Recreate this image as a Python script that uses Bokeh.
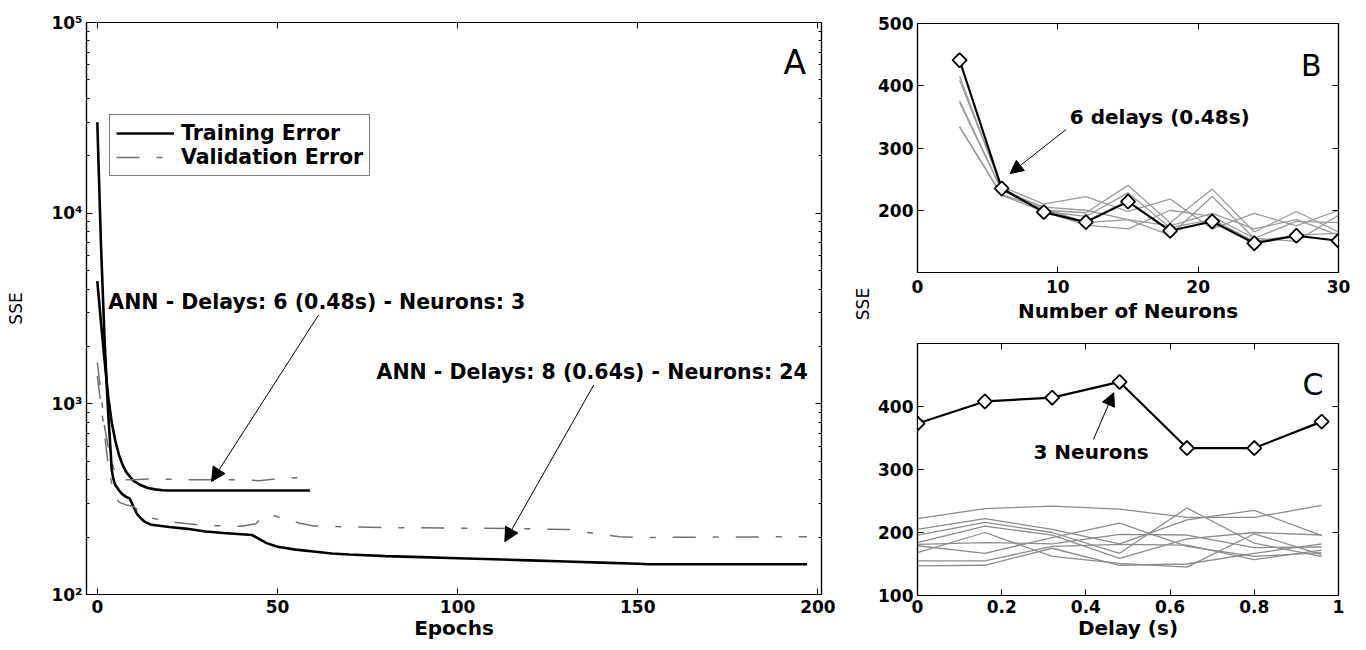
import math
from bokeh.plotting import figure
from bokeh.models import (LogAxis, LinearAxis, FixedTicker, Range1d, Label, Arrow,
                          NormalHead, Legend, LegendItem, CustomJSTickFormatter)
from bokeh.layouts import row, column
from bokeh.embed import file_html
from bokeh.resources import INLINE

# ---------------- Panel A data ----------------
net1_train_epochs = [0, 1, 2, 3, 4, 5, 6, 7, 8, 10, 12, 14, 16, 18, 20, 30, 40, 50, 59]
net1_train_sse = [4400, 2700, 1700, 1100, 800, 640, 540, 480, 440, 395, 375, 362, 356, 352, 351, 351, 351, 351, 351]
net1_val_epochs = [0, 1, 2, 3, 4, 5, 6, 8, 10, 15, 20, 25, 30, 35, 40, 45, 50, 55, 59]
net1_val_sse = [1650, 1150, 760, 600, 500, 430, 405, 400, 400, 404, 402, 400, 400, 400, 400, 395, 405, 410, 410]

net2_train_epochs = [0, 1, 2, 3, 3.5, 4, 4.5, 5, 6, 7, 8, 9, 10, 11, 12, 13, 15, 20, 25, 30, 35, 40, 43,
                     45, 47, 50, 55, 60, 65, 70, 80, 90, 100, 110, 120, 130, 140, 150, 153, 197]
net2_train_sse = [30000, 7000, 2200, 900, 650, 450, 400, 375, 352, 335, 325, 319, 290, 265, 252, 242, 232,
                  226, 221, 214, 210, 207, 205, 195, 186, 178, 172, 168, 164, 162, 159, 157, 155, 153,
                  151, 149, 147, 145, 144, 144]
net2_val_epochs = [0, 1, 2, 3, 4, 5, 6, 8, 10, 12, 15, 18, 25, 30, 40, 44, 46, 48, 52, 56, 60, 70, 85,
                   100, 120, 131, 135, 140, 145, 150, 170, 197]
net2_val_sse = [1400, 1000, 700, 480, 380, 330, 305, 295, 290, 270, 252, 244, 235, 230, 228, 235, 258,
                262, 250, 237, 229, 226, 224, 223, 221, 219, 213, 206, 201, 199, 200, 201]

a_xticks = [0, 50, 100, 150, 200]
a_yticks = [100, 1000, 10000, 100000]
a_ylabels = {100: "10\u00b2", 1000: "10\u00b3", 10000: "10\u2074", 100000: "10\u2075"}

# ---------------- Panel B data ----------------
neurons = [3, 6, 9, 12, 15, 18, 21, 24, 27, 30]
b_best = [441, 235, 197, 181, 214, 167, 182, 147, 159, 151]           # 6 delays (0.48 s)
b_gray = [
    [373, 232, 205, 200, 185, 175, 195, 170, 185, 160],
    [409, 238, 210, 222, 198, 218, 170, 195, 175, 200],
    [415, 236, 200, 196, 240, 180, 234, 165, 198, 165],
    [334, 224, 198, 176, 170, 200, 190, 155, 150, 192],
    [334, 225, 203, 180, 185, 160, 222, 155, 182, 180],
    [376, 233, 198, 190, 228, 172, 185, 150, 160, 163],
]
b_xticks = [0, 10, 20, 30]
b_yticks = [200, 300, 400, 500]

# ---------------- Panel C data ----------------
delays = [0, 0.16, 0.32, 0.48, 0.64, 0.8, 0.96]
c_best = [373, 408, 414, 439, 334, 334, 376]                         # 3 neurons
c_gray = [
    [222, 238, 242, 237, 224, 224, 243],
    [205, 222, 205, 182, 220, 235, 195],
    [196, 216, 200, 167, 239, 183, 162],
    [184, 210, 196, 159, 190, 200, 196],
    [181, 184, 182, 197, 196, 176, 177],
    [179, 167, 192, 215, 178, 162, 168],
    [168, 200, 162, 151, 145, 198, 165],
    [155, 155, 178, 181, 180, 157, 172],
    [147, 148, 175, 148, 150, 167, 182],
]
c_xticks = [0, 0.2, 0.4, 0.6, 0.8, 1]
c_yticks = [100, 200, 300, 400]

FONT = "DejaVu Sans"
EMPTY = "return ''"
H = 642          # total height of the layout
WA = 845         # width of panel A
WS = 28          # width of the strip holding the shared SSE label
WR = 1350 - WA - WS   # width of panels B and C


def style_axis(ax, size="17px"):
    ax.axis_line_color = "black"
    ax.axis_line_width = 1.2
    ax.major_tick_in = 6
    ax.major_tick_out = 0
    ax.minor_tick_in = 3
    ax.minor_tick_out = 0
    ax.major_tick_line_color = "black"
    ax.minor_tick_line_color = "black"
    ax.major_label_text_font = FONT
    ax.major_label_text_font_style = "bold"
    ax.major_label_text_font_size = size
    ax.major_label_text_color = "black"
    ax.major_label_standoff = 4
    ax.axis_label_text_font = FONT
    ax.axis_label_text_font_style = "bold"
    ax.axis_label_text_font_size = "20px"
    ax.axis_label_text_color = "black"
    ax.axis_label_standoff = 0


def mirror(ax):
    style_axis(ax, size="1px")
    ax.major_label_standoff = 0
    ax.formatter = CustomJSTickFormatter(code=EMPTY)
    return ax


def base_fig(**kw):
    p = figure(output_backend="svg", toolbar_location=None, **kw)
    p.xgrid.visible = False
    p.ygrid.visible = False
    p.outline_line_color = "black"
    p.outline_line_width = 1.2
    p.background_fill_color = "white"
    p.border_fill_color = "white"
    return p


# ================= Panel A =================
pA = base_fig(width=WA, height=H, y_axis_type="log",
              x_range=Range1d(-3, 201), y_range=Range1d(100, 100000),
              min_border_left=86, min_border_right=24, min_border_top=22, min_border_bottom=46)
a_minor = [m * 10 ** e for e in (2, 3, 4) for m in range(2, 10)]
xa = pA.below[0]
ya = pA.left[0]
style_axis(xa)
style_axis(ya)
xa.ticker = FixedTicker(ticks=a_xticks)
xa.axis_label = "Epochs"
xa.major_label_standoff = 5
ya.ticker = FixedTicker(ticks=a_yticks, minor_ticks=a_minor)
ya.major_label_overrides = a_ylabels
ya.axis_label = "SSE"
ya.axis_label_text_font_style = "normal"
ya.axis_label_text_font_size = "17px"
ya.axis_label_standoff = 22

pA.add_layout(mirror(LinearAxis(ticker=FixedTicker(ticks=a_xticks))), "above")
pA.add_layout(mirror(LogAxis(ticker=FixedTicker(ticks=a_yticks, minor_ticks=a_minor))), "right")

VAL_COLOR = "#707070"
VAL_DASH = "23 17 6 17"
r_tr1 = pA.line(net1_train_epochs, net1_train_sse, line_color="black", line_width=2.6)
r_va1 = pA.line(net1_val_epochs, net1_val_sse, line_color=VAL_COLOR, line_width=1.5, line_dash=VAL_DASH)
pA.line(net2_train_epochs, net2_train_sse, line_color="black", line_width=2.6)
pA.line(net2_val_epochs, net2_val_sse, line_color=VAL_COLOR, line_width=1.5, line_dash=VAL_DASH)

legend = Legend(items=[LegendItem(label="Training Error", renderers=[r_tr1]),
                       LegendItem(label="Validation Error", renderers=[r_va1])],
                location=(23, 418), orientation="vertical",
                label_text_font=FONT, label_text_font_style="bold", label_text_font_size="20.5px",
                label_text_color="black", label_height=24, glyph_height=24, glyph_width=58,
                label_standoff=7, padding=6, spacing=0, margin=0,
                border_line_color="black", border_line_width=1, background_fill_color="white",
                background_fill_alpha=1)
pA.add_layout(legend)

pA.add_layout(Label(x=3.06, y=3420, text="ANN - Delays: 6 (0.48s) - Neurons: 3",
                    text_font=FONT, text_font_style="bold", text_font_size="20.5px",
                    text_align="left", text_baseline="middle", text_color="black"))
pA.add_layout(Label(x=77.5, y=1472, text="ANN - Delays: 8 (0.64s) - Neurons: 24",
                    text_font=FONT, text_font_style="bold", text_font_size="20.5px",
                    text_align="left", text_baseline="middle", text_color="black"))
pA.add_layout(Arrow(end=NormalHead(size=14, fill_color="black", line_color="black"),
                    x_start=61.4, y_start=2924, x_end=31.7, y_end=391,
                    line_color="black", line_width=1))
pA.add_layout(Arrow(end=NormalHead(size=14, fill_color="black", line_color="black"),
                    x_start=137.8, y_start=1256, x_end=113.1, y_end=189,
                    line_color="black", line_width=1))
pA.add_layout(Label(x=196.7, y=61700, text="A", text_font=FONT, text_font_size="33px",
                    text_align="right", text_baseline="alphabetic", text_color="black"))

# ================= shared SSE label strip for B and C =================
pS = figure(width=WS, height=H, x_range=Range1d(0, WS), y_range=Range1d(0, H),
            x_axis_location=None, y_axis_location=None, output_backend="svg",
            toolbar_location=None, min_border_left=0, min_border_right=0,
            min_border_top=0, min_border_bottom=0)
pS.xgrid.visible = False
pS.ygrid.visible = False
pS.outline_line_color = None
pS.add_layout(Label(x=17, y=H - 316, text="SSE", angle=math.pi / 2, text_font=FONT,
                    text_font_size="17px", text_align="center", text_baseline="middle",
                    text_color="black"))

# ================= Panel B =================
pB = base_fig(width=WR, height=340, x_range=Range1d(0, 30), y_range=Range1d(100, 500),
              min_border_left=913 - WA - WS, min_border_right=11, min_border_top=23,
              min_border_bottom=68)
style_axis(pB.below[0])
style_axis(pB.left[0])
pB.below[0].ticker = FixedTicker(ticks=b_xticks)
pB.below[0].axis_label = "Number of Neurons"
pB.below[0].major_label_standoff = 7
pB.below[0].axis_label_standoff = 3
pB.left[0].ticker = FixedTicker(ticks=b_yticks)
pB.add_layout(mirror(LinearAxis(ticker=FixedTicker(ticks=b_xticks))), "above")
pB.add_layout(mirror(LinearAxis(ticker=FixedTicker(ticks=b_yticks))), "right")

for g in b_gray:
    pB.line(neurons, g, line_color="#9a9a9a", line_width=1.3)
pB.line(neurons, b_best, line_color="black", line_width=2.2)
pB.scatter(neurons, b_best, marker="square", angle=math.pi / 4, size=10,
           fill_color="white", line_color="black", line_width=1.8)
pB.add_layout(Label(x=10.85, y=349, text="6 delays (0.48s)", text_font=FONT,
                    text_font_style="bold", text_font_size="20px", text_align="left",
                    text_baseline="middle", text_color="black"))
pB.add_layout(Arrow(end=NormalHead(size=13, fill_color="black", line_color="black"),
                    x_start=10.6, y_start=330, x_end=6.6, y_end=259,
                    line_color="black", line_width=1))
pB.add_layout(Label(x=28.8, y=433, text="B", text_font=FONT, text_font_size="30px",
                    text_align="right", text_baseline="alphabetic", text_color="black"))

# ================= Panel C =================
pC = base_fig(width=WR, height=H - 340, x_range=Range1d(0, 1), y_range=Range1d(100, 500),
              min_border_left=917 - WA - WS, min_border_right=12, min_border_top=3,
              min_border_bottom=45)
style_axis(pC.below[0])
style_axis(pC.left[0])
pC.below[0].ticker = FixedTicker(ticks=c_xticks)
pC.below[0].formatter = CustomJSTickFormatter(code="return String(Math.round(tick*10)/10)")
pC.below[0].axis_label = "Delay (s)"
pC.left[0].ticker = FixedTicker(ticks=c_yticks)
pC.add_layout(mirror(LinearAxis(ticker=FixedTicker(ticks=c_xticks))), "above")
pC.add_layout(mirror(LinearAxis(ticker=FixedTicker(ticks=c_yticks))), "right")

for g in c_gray:
    pC.line(delays, g, line_color="#8c8c8c", line_width=1.3)
pC.line(delays, c_best, line_color="black", line_width=2.2)
pC.scatter(delays, c_best, marker="square", angle=math.pi / 4, size=10,
           fill_color="white", line_color="black", line_width=1.8)
pC.add_layout(Label(x=0.2755, y=327, text="3 Neurons", text_font=FONT, text_font_style="bold",
                    text_font_size="20px", text_align="left", text_baseline="middle",
                    text_color="black"))
pC.add_layout(Arrow(end=NormalHead(size=13, fill_color="black", line_color="black"),
                    x_start=0.418, y_start=348, x_end=0.466, y_end=422,
                    line_color="black", line_width=1))
pC.add_layout(Label(x=0.964, y=435, text="C", text_font=FONT, text_font_size="30px",
                    text_align="right", text_baseline="alphabetic", text_color="black"))

layout = row(pA, pS, column(pB, pC))
open("out.html", "w").write(file_html(layout, INLINE))
